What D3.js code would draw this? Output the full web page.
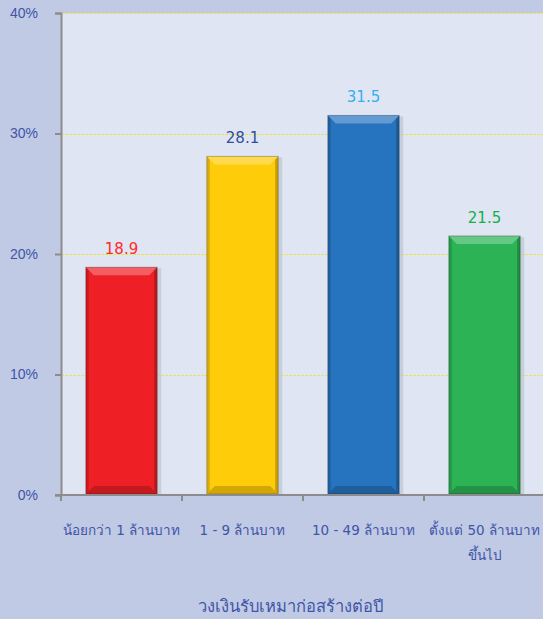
<!DOCTYPE html>
<html>
<head>
<meta charset="utf-8">
<script src="https://cdn.jsdelivr.net/npm/d3@7"></script>
<style>
  body { margin: 0; background: #c0cae4; }
  svg { display: block; font-family: Tahoma, "DejaVu Sans", "Noto Sans", sans-serif; }
</style>
</head>
<body>
<svg id="viz" width="543" height="619"></svg>
<script>
var categories = [["น้อยกว่า 1 ล้านบาท"], ["1 - 9 ล้านบาท"], ["10 - 49 ล้านบาท"], ["ตั้งแต่ 50 ล้านบาท", "ขึ้นไป"]];
var values = [18.9, 28.1, 31.5, 21.5];
var yTicks = [0, 10, 20, 30, 40];
var barColors = ["#ee2026", "#ffcc0a", "#2673bf", "#2bb356"];
var labelColors = ["#ff2a2a", "#2f4f9f", "#33b0ee", "#12b04a"];
var axisTitle = "วงเงินรับเหมาก่อสร้างต่อปี";

var margins = {top: 13, right: -2, bottom: 124, left: 61};

var svg = d3.select("#viz"),
    width = +svg.attr("width") - margins.left - margins.right,
    height = +svg.attr("height") - margins.top - margins.bottom,
    g = svg.append("g").attr("transform", "translate(" + margins.left + "," + margins.top + ")");

var xScale = d3.scaleBand()
               .domain(d3.range(categories.length))
               .range([0, width])
               .paddingInner(0.41)
               .paddingOuter(0.205);
var yScale = d3.scaleLinear()
               .domain([0, 40])
               .range([height, 0]);

// plot area
g.append("rect")
  .attr("width", width)
  .attr("height", height)
  .attr("fill", "#dfe5f2");

// grid
g.selectAll(".grid")
  .data(yTicks.filter(function(d) { return d > 0; }))
  .enter().append("line")
  .attr("x1", 0).attr("x2", width)
  .attr("y1", function(d) { return Math.round(yScale(d)) + 0.5; })
  .attr("y2", function(d) { return Math.round(yScale(d)) + 0.5; })
  .attr("stroke", "#ebe354")
  .attr("stroke-width", 1)
  .attr("stroke-dasharray", "3,1");

// bars with a bevel look
var bw = xScale.bandwidth(), bev = 8;
var bars = g.selectAll(".bar")
  .data(values)
  .enter().append("g")
  .attr("transform", function(d, i) { return "translate(" + xScale(i) + "," + yScale(d) + ")"; });

bars.append("rect") // shadow
  .attr("x", 2).attr("y", 1)
  .attr("width", bw + 2)
  .attr("height", function(d) { return height - yScale(d); })
  .attr("fill", "#b8bfcc").attr("opacity", 0.6);

bars.append("rect")
  .attr("width", bw)
  .attr("height", function(d) { return height - yScale(d) - 1; })
  .attr("fill", function(d, i) { return barColors[i]; });

function bevel(pointsFn, colorFn, op) {
  bars.append("polygon")
    .attr("points", function(d) { return pointsFn(height - yScale(d) - 1).map(function(p) { return p.join(","); }).join(" "); })
    .attr("fill", colorFn)
    .attr("opacity", op);
}
bevel(function(h) { return [[0, 0], [bw, 0], [bw - bev, bev], [bev, bev]]; }, "#ffffff", 0.28);
bevel(function(h) { return [[0, 0], [3, 3], [3, h - 3], [0, h]]; }, "#000000", 0.15);
bevel(function(h) { return [[bw, 0], [bw - 3, 3], [bw - 3, h - 3], [bw, h]]; }, "#000000", 0.22);
bevel(function(h) { return [[0, h], [bev, h - bev], [bw - bev, h - bev], [bw, h]]; }, "#000000", 0.18);

bars.append("rect")
  .attr("width", bw)
  .attr("height", function(d) { return height - yScale(d) - 1; })
  .attr("fill", "none")
  .attr("stroke", "#000").attr("stroke-opacity", 0.25);

// value labels
g.selectAll(".val")
  .data(values)
  .enter().append("text")
  .attr("x", function(d, i) { return xScale(i) + bw / 2; })
  .attr("y", function(d) { return yScale(d) - 13; })
  .attr("text-anchor", "middle")
  .attr("font-size", 15)
  .attr("fill", function(d, i) { return labelColors[i]; })
  .text(function(d) { return d.toFixed(1); });

// y axis
var yAxis = g.append("g")
  .call(d3.axisLeft(yScale).tickValues(yTicks).tickSize(6).tickFormat(function(d) { return d + "%"; }));
yAxis.select(".domain").attr("stroke", "#8c8c8c").attr("stroke-width", 2);
yAxis.selectAll(".tick line").attr("stroke", "#8c8c8c").attr("stroke-width", 2);
yAxis.selectAll(".tick text")
  .attr("x", -23)
  .attr("font-size", 14)
  .attr("font-family", null)
  .attr("fill", "#4054a8");

// x axis
var xAxis = g.append("g").attr("transform", "translate(0," + height + ")");
xAxis.append("line")
  .attr("x1", -6).attr("x2", width)
  .attr("stroke", "#8c8c8c").attr("stroke-width", 2);
xAxis.selectAll(".xt")
  .data(d3.range(categories.length))
  .enter().append("line")
  .attr("x1", function(i) { return xScale.step() * i; })
  .attr("x2", function(i) { return xScale.step() * i; })
  .attr("y1", 0).attr("y2", 6)
  .attr("stroke", "#8c8c8c").attr("stroke-width", 2);

var xl = xAxis.selectAll(".xl")
  .data(categories)
  .enter().append("text")
  .attr("text-anchor", "middle")
  .attr("font-size", 13.5)
  .attr("fill", "#4054a8")
  .attr("transform", function(d, i) { return "translate(" + (xScale(i) + bw / 2) + ",40)"; });
xl.selectAll("tspan")
  .data(function(d) { return d; })
  .enter().append("tspan")
  .attr("x", 0)
  .attr("dy", function(d, j) { return j === 0 ? 0 : 25; })
  .text(function(d) { return d; });

svg.append("text")
  .attr("x", 290)
  .attr("y", 612)
  .attr("text-anchor", "middle")
  .attr("font-size", 16.5)
  .attr("fill", "#4054a8")
  .text(axisTitle);
</script>
</body>
</html>
